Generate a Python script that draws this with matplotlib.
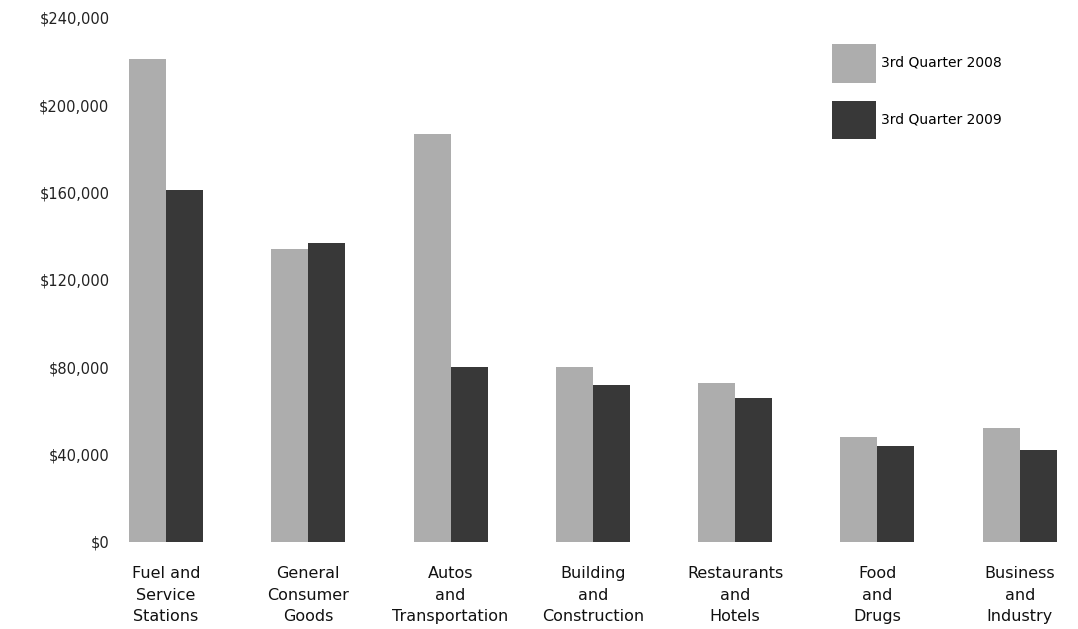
import matplotlib
matplotlib.use("Agg")
import matplotlib.pyplot as plt
from matplotlib import font_manager
import numpy as np

categories = ["Fuel and\nService\nStations", "General\nConsumer\nGoods",
              "Autos\nand\nTransportation", "Building\nand\nConstruction",
              "Restaurants\nand\nHotels", "Food\nand\nDrugs", "Business\nand\nIndustry"]
q3_2008 = [221000, 134000, 187000, 80000, 73000, 48000, 52000]
q3_2009 = [161000, 137000, 80000, 72000, 66000, 44000, 42000]
series_labels = ["3rd Quarter 2008", "3rd Quarter 2009"]
y_ticks = [0, 40000, 80000, 120000, 160000, 200000, 240000]

names = {f.name for f in font_manager.fontManager.ttflist}
family = "Liberation Sans Narrow" if "Liberation Sans Narrow" in names else "DejaVu Sans"
plt.rcParams['font.family'] = [family, 'DejaVu Sans']

fig = plt.figure(figsize=(10.78, 6.29), dpi=100)
ax = fig.add_axes([115/1078, 1 - 542/629, (1070-115)/1078, (542-18)/629])

x = np.arange(len(categories))
w = 0.26
light = '#adadad'
dark = '#383838'
ax.bar(x - w/2, q3_2008, w, color=light, label=series_labels[0])
ax.bar(x + w/2, q3_2009, w, color=dark, label=series_labels[1])

ax.set_xlim(-0.358, 6.353)
ax.set_ylim(0, 240000)
ax.set_yticks(y_ticks)
ax.set_yticklabels(["${:,}".format(v) for v in y_ticks], fontsize=10.5, color='#222222')
ax.set_xticks(x)
ax.set_xticklabels(categories, fontsize=11.5, color='#111111', linespacing=1.52)
ax.tick_params(axis='both', length=0)
ax.tick_params(axis='y', pad=4)
ax.tick_params(axis='x', pad=17.5)
for s in ax.spines.values():
    s.set_visible(False)

ax.legend(loc='upper left', bbox_to_anchor=(825/1078, 1 - 37/629),
          bbox_transform=fig.transFigure, frameon=False, borderpad=0,
          handlelength=3.15, handleheight=3.9, labelspacing=1.3,
          handletextpad=0.35, fontsize=10)

fig.savefig("out.png", dpi=100)
